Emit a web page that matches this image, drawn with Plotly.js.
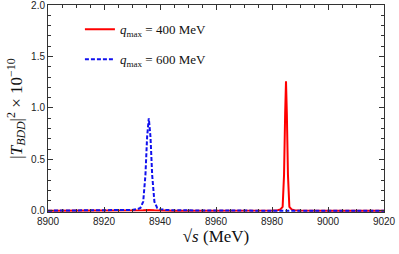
<!DOCTYPE html>
<html><head><meta charset="utf-8">
<script src="https://cdn.plot.ly/plotly-3.0.1.min.js"></script>
<style>html,body{margin:0;padding:0;background:#fff;}#plot{width:399px;height:254px;}</style>
</head><body><div id="plot"></div>
<script>
// sqrt(s) in MeV and |T_BDD|^2 x 1e-10
const redX = [8900, 8910, 8920, 8930, 8934, 8936, 8938, 8945, 8960, 8975, 8980, 8982, 8983, 8983.8, 8984.3, 8984.7, 8985, 8985.3, 8985.7, 8986.2, 8987, 8988, 8990, 9000, 9010, 9020];
const redY = [0.001, 0.001, 0.002, 0.003, 0.006, 0.010, 0.006, 0.003, 0.002, 0.003, 0.005, 0.008, 0.015, 0.04, 0.35, 0.95, 1.26, 0.95, 0.35, 0.04, 0.015, 0.008, 0.005, 0.002, 0.001, 0.001];
const blueX = [8900, 8910, 8920, 8925, 8930, 8932, 8933, 8934, 8934.8, 8935.4, 8936, 8936.6, 8937.2, 8938, 8939, 8940, 8942, 8945, 8950, 8954, 8955, 8956, 8960, 8980, 9000, 9020];
const blueY = [0.003, 0.003, 0.004, 0.006, 0.010, 0.018, 0.03, 0.09, 0.35, 0.72, 0.90, 0.72, 0.35, 0.09, 0.03, 0.018, 0.010, 0.007, 0.005, 0.006, 0.01, 0.006, 0.004, 0.003, 0.003, 0.003];
const xTicks = [8900, 8920, 8940, 8960, 8980, 9000, 9020];
const yTicks = [0.0, 0.5, 1.0, 1.5, 2.0];
const yTickText = ['0.0', '0.5', '1.0', '1.5', '2.0'];
const names = ['<i>q</i><sub>max</sub> = 400 MeV', '<i>q</i><sub>max</sub> = 600 MeV'];

const traces = [
  {x: redX, y: redY, mode: 'lines', name: names[0], legendgroup: 'a',
   line: {color: '#ff0000', width: 2}},
  {x: blueX, y: blueY, mode: 'lines', name: names[1], legendgroup: 'b',
   line: {color: '#1010ee', width: 2, dash: '4px,2px'}}
];
const axisCommon = {
  showline: true, linecolor: '#333', linewidth: 1, mirror: 'allticks',
  ticks: 'inside', ticklen: 5, tickwidth: 1, tickcolor: '#333',
  showgrid: false, zeroline: false, automargin: false, ticklabeloverflow: 'allow',
  tickfont: {family: 'Liberation Sans, Arial, sans-serif', size: 10, color: '#222'}
};
const layout = {
  width: 399, height: 254,
  margin: {l: 48, r: 15, t: 5, b: 42},
  paper_bgcolor: '#fff', plot_bgcolor: '#fff',
  showlegend: true,
  legend: {x: 0.095, y: 0.955, xanchor: 'left', yanchor: 'top', traceorder: 'grouped',
    tracegroupgap: 10, bgcolor: 'rgba(0,0,0,0)',
    font: {family: 'Liberation Serif, Times New Roman, serif', size: 13, color: '#111'}},
  xaxis: Object.assign({}, axisCommon, {
    range: [8900, 9020], tickvals: xTicks, ticktext: xTicks.map(String),
    minor: {dtick: 5, ticks: 'inside', ticklen: 3, tickcolor: '#333'},
    title: {text: '√<i>s</i> (MeV)', standoff: 4,
      font: {family: 'Liberation Serif, Times New Roman, serif', size: 17, color: '#111'}}
  }),
  yaxis: Object.assign({}, axisCommon, {
    range: [-0.01, 2.0], tickvals: yTicks, ticktext: yTickText,
    minor: {dtick: 0.1, ticks: 'inside', ticklen: 3, tickcolor: '#333'},
    title: {text: '|<i>T</i><sub><i>BDD</i></sub>|<sup>2</sup> × 10<sup>−10</sup>', standoff: 4,
      font: {family: 'Liberation Serif, Times New Roman, serif', size: 17, color: '#111'}}
  })
};
Plotly.newPlot('plot', traces, layout, {staticPlot: true, displayModeBar: false});
</script></body></html>
